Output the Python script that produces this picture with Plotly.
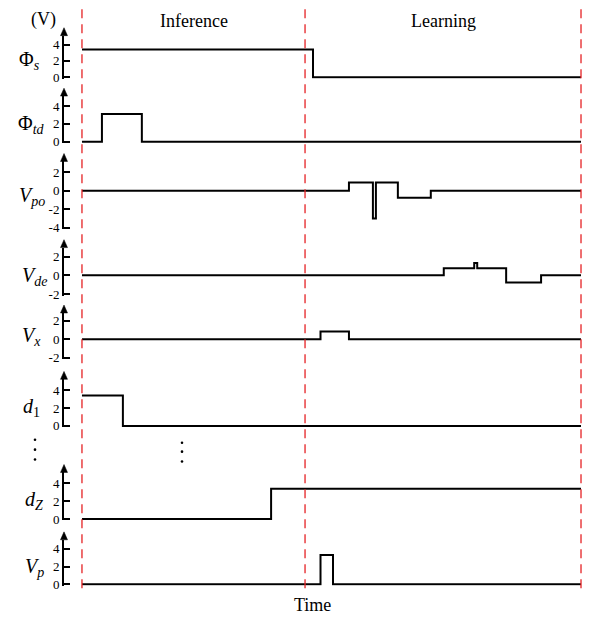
import plotly.graph_objects as go

# ---- timing diagram data (time in arbitrary units, voltages in V) ----
phase_edges = [0, 44.7, 100]          # Inference | Learning boundaries
phase_names = ["Inference", "Learning"]

phi_s_t = [0, 46.3, 100]
phi_s_v = [3.4, 0, 0]

phi_td_t = [0, 4.0, 12.0, 100]
phi_td_v = [0, 3.1, 0, 0]

v_po_t = [0, 53.5, 58.3, 58.9, 63.3, 69.9, 100]
v_po_v = [0, 0.9, -3.0, 0.9, -0.75, 0, 0]

v_de_t = [0, 72.5, 78.6, 79.2, 85.0, 92.0, 100]
v_de_v = [0, 0.75, 1.3, 0.75, -0.75, 0, 0]

v_x_t = [0, 47.8, 53.5, 100]
v_x_v = [0, 0.85, 0, 0]

d1_t = [0, 8.2, 100]
d1_v = [3.4, 0, 0]

dz_t = [0, 37.9, 100]
dz_v = [0, 3.4, 3.4]

v_p_t = [0, 47.8, 50.3, 100]
v_p_v = [0, 3.3, 0, 0]

labels = ["Φ<sub><i>s</i></sub>", "Φ<sub><i>td</i></sub>", "<i>V</i><sub><i>po</i></sub>",
          "<i>V</i><sub><i>de</i></sub>", "<i>V</i><sub><i>x</i></sub>", "<i>d</i><sub>1</sub>",
          "<i>d</i><sub><i>Z</i></sub>", "<i>V</i><sub><i>p</i></sub>"]
tick_sets = [[0, 2, 4], [0, 2, 4], [-4, -2, 0, 2], [-2, 0, 2], [-2, 0, 2],
             [0, 2, 4], [0, 2, 4], [0, 2, 4]]
series = [(phi_s_t, phi_s_v), (phi_td_t, phi_td_v), (v_po_t, v_po_v), (v_de_t, v_de_v),
          (v_x_t, v_x_v), (d1_t, d1_v), (dz_t, dz_v), (v_p_t, v_p_v)]

# ---- layout geometry (pixels) ----
W, H = 593, 627
AX_X = 64          # vertical axes position
X_RIGHT = 585
X_RANGE = [-3.6, 100.8]
# per panel: lowest-tick pixel, px per volt, arrow tip pixel, label x pixel, label y pixel
panel_geo = [
    (78, 8.25, 28, 17, 61),
    (143, 9.0, 89, 16, 126),
    (230, 9.33, 155, 17, 198),
    (297, 9.5, 242, 20, 279),
    (361, 9.25, 308, 20, 340),
    (430, 9.0, 375, 21, 411),
    (524, 9.0, 469, 23, 505),
    (590, 9.0, 537, 23, 573),
]
BOTTOM_PAD = 1.5   # keeps a trace sitting on the lowest tick from being clipped
ARROW_H, ARROW_HALF_W = 8, 3.5
FONT = "Liberation Serif, Times New Roman, serif"


def px(xp):
    return xp / W


def py(yp):
    return 1 - yp / H


fig = go.Figure()
layout = dict(
    width=W, height=H, margin=dict(l=0, r=0, t=0, b=0),
    paper_bgcolor="white", plot_bgcolor="white", showlegend=False,
    xaxis=dict(domain=[px(AX_X), px(X_RIGHT)], range=X_RANGE, visible=False, fixedrange=True),
)
shapes, annotations = [], []

for i, ((t, v), ticks, lab, geo) in enumerate(zip(series, tick_sets, labels, panel_geo)):
    tick0_px, ppu, tip_px, lab_x, lab_y = geo
    top_px = tip_px + ARROW_H
    bottom_px = tick0_px + BOTTOM_PAD
    lo = ticks[0] - BOTTOM_PAD / ppu
    hi = ticks[0] + (tick0_px - top_px) / ppu
    name = "yaxis" if i == 0 else f"yaxis{i + 1}"
    ref = "y" if i == 0 else f"y{i + 1}"
    layout[name] = dict(
        domain=[py(bottom_px), py(top_px)], range=[lo, hi], anchor="x",
        showline=True, linecolor="black", linewidth=2, showgrid=False, zeroline=False,
        ticks="inside", ticklen=6, tickwidth=1.5, tickcolor="black",
        tickvals=ticks, ticktext=[str(k) for k in ticks],
        tickfont=dict(family=FONT, size=13, color="black"), fixedrange=True,
    )
    fig.add_trace(go.Scatter(x=t, y=v, mode="lines", yaxis=ref,
                             line=dict(color="black", width=2, shape="hv"),
                             hoverinfo="skip"))
    # arrowhead on top of each axis
    shapes.append(dict(
        type="path", xref="paper", yref="paper",
        path=(f"M {px(AX_X - ARROW_HALF_W)},{py(top_px)} L {px(AX_X + ARROW_HALF_W)},{py(top_px)} "
              f"L {px(AX_X)},{py(tip_px)} Z"),
        fillcolor="black", line=dict(color="black", width=0.5)))
    annotations.append(dict(
        text=lab, xref="paper", yref="paper", x=px(lab_x), y=py(lab_y),
        xanchor="left", yanchor="middle", showarrow=False,
        font=dict(family=FONT, size=20, color="black")))

# phase boundaries
for e in phase_edges:
    shapes.append(dict(type="line", xref="x", yref="paper", x0=e, x1=e,
                       y0=py(594), y1=py(4),
                       line=dict(color="#e52225", width=1.3, dash="9px,6px")))

# phase titles
for k, name in enumerate(phase_names):
    annotations.append(dict(
        text=name, xref="x", yref="paper", x=(phase_edges[k] + phase_edges[k + 1]) / 2,
        y=py(21), xanchor="center", yanchor="middle", showarrow=False,
        font=dict(family=FONT, size=18, color="black")))

annotations.append(dict(text="(V)", xref="paper", yref="paper", x=px(43), y=py(20),
                        xanchor="center", yanchor="middle", showarrow=False,
                        font=dict(family=FONT, size=18, color="black")))
annotations.append(dict(text="Time", xref="paper", yref="paper", x=px(312), y=py(611),
                        xanchor="center", yanchor="middle", showarrow=False,
                        font=dict(family=FONT, size=18, color="black")))

# vertical ellipsis between d1 and dZ
for cx, ys in [(35, [444, 454, 464]), (182, [447, 456, 466])]:
    for cy in ys:
        r = 1.3
        shapes.append(dict(type="circle", xref="paper", yref="paper",
                           x0=px(cx - r), x1=px(cx + r), y0=py(cy + r), y1=py(cy - r),
                           fillcolor="black", line=dict(width=0)))

layout["shapes"] = shapes
layout["annotations"] = annotations
fig.update_layout(**layout)
fig.write_html("out.html")
